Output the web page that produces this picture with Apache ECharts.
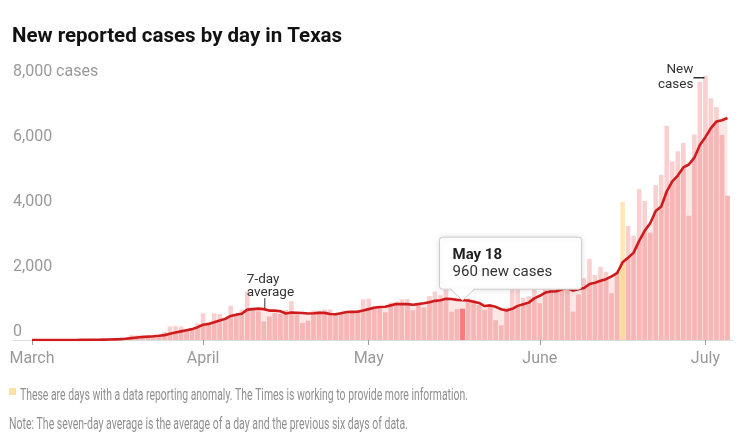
<!DOCTYPE html>
<html><head><meta charset="utf-8">
<script src="https://cdn.jsdelivr.net/npm/echarts@6/dist/echarts.min.js"></script>
<style>html,body{margin:0;padding:0;background:#fff}#c{width:739px;height:435px}</style>
</head><body><div id="c"></div>
<script>
// Day index 0 = March 1, 2020
const newCases = [0,0,0,0,1,2,3,4,5,10,
12,15,18,25,30,40,55,80,150,145,
150,110,115,120,260,420,430,410,300,370,
510,820,560,820,800,670,1055,750,940,1490,
930,880,570,720,830,800,930,1200,820,520,
590,910,900,940,940,780,790,850,870,920,
1250,1270,1050,1000,850,1150,1180,1250,1260,910,
1150,1000,1350,1490,1380,1550,870,950,960,1280,
1240,1080,930,1040,610,450,1000,1620,1700,1300,
1350,1650,1130,1650,1700,1750,1850,1650,870,1400,
1900,2490,2000,2250,2100,1440,2100,4250,3510,3210,
4650,4280,3300,4770,5080,6590,5490,5810,6060,3820,
6320,7950,8130,7440,7160,6310,4440];
const sevenDayAvg = [0,0,0,0,0,1,1,2,2,3,
4,6,8,11,15,20,27,38,58,75,
92,105,115,130,150,190,230,266,300,335,
395,470,495,545,600,650,740,780,810,935,
950,965,950,905,905,885,815,845,838,830,
815,822,835,835,800,790,825,860,865,870,
910,950,990,1015,1025,1065,1105,1105,1105,1085,
1105,1130,1160,1205,1225,1270,1260,1235,1225,1215,
1180,1140,1045,1065,1020,945,910,960,1050,1100,
1150,1280,1360,1460,1490,1500,1560,1600,1520,1560,
1600,1720,1760,1820,1870,1960,2060,2390,2530,2690,
3050,3360,3590,3970,4110,4570,4880,5060,5310,5400,
5610,6000,6240,6520,6720,6760,6830];
const monthTickDays = [0,31,61,92,122];
const monthLabels = ['March','April','May','June','July'];
const yTickValues = [0,2000,4000,6000,8000];
const yTickLabels = ['0','2,000','4,000','6,000','8,000 cases'];
const highlightDay = 78;
const highlightLabel = 'May 18';
const anomalyDays = [107];
const avgLabelDay = 42;
const newCasesLabelDay = 122;
const titleText = 'New reported cases by day in Texas';
const anomalyNote = 'These are days with a data reporting anomaly. The Times is working to provide more information.';
const avgNote = 'Note: The seven-day average is the average of a day and the previous six days of data.';

const FF = "Roboto, 'Liberation Sans', sans-serif";
const C = {
  light: '#f9cfcf', dark: '#f6b6b6', area: '#fce7e7',
  anomLight: '#fee6b8', anomDark: '#fdd89f', hi: '#f47c7c',
  line: '#d01b1d', gray: '#999'
};

const lightData = newCases.map((v, i) => ({
  value: [i, v],
  itemStyle: { color: i === highlightDay ? C.hi : (anomalyDays.includes(i) ? C.anomLight : C.light) }
}));
const darkData = newCases.map((v, i) => ({
  value: [i, Math.min(v, sevenDayAvg[i])],
  itemStyle: { color: i === highlightDay ? C.hi : (anomalyDays.includes(i) ? C.anomDark : C.dark) }
}));
const avgData = sevenDayAvg.map((v, i) => [i, v]);

const chart = echarts.init(document.getElementById('c'), null, { renderer: 'canvas' });
chart.setOption({
  animation: false,
  backgroundColor: '#fff',
  title: {
    text: titleText, left: 12, top: 26, padding: 0,
    textStyle: { fontFamily: FF, fontWeight: 'bold', fontSize: 20.5, color: '#121212' }
  },
  grid: { left: 13, right: 6, top: 80, bottom: 95 },
  xAxis: {
    type: 'value', min: -3.44, max: 127,
    splitLine: { show: false },
    axisLine: { show: true, lineStyle: { color: '#ddd', width: 1 } },
    axisTick: { show: true, customValues: monthTickDays, length: 5, lineStyle: { color: '#999' } },
    axisLabel: {
      customValues: monthTickDays,
      formatter: v => monthLabels[monthTickDays.indexOf(v)],
      color: C.gray, fontSize: 16, margin: 11, fontFamily: FF
    }
  },
  yAxis: {
    type: 'value', min: 0, max: 8000, interval: 2000,
    splitLine: { show: false }, axisLine: { show: false }, axisTick: { show: false },
    axisLabel: {
      inside: true, margin: 0, verticalAlign: 'bottom', padding: [0, 0, 0, 0],
      formatter: v => yTickLabels[yTickValues.indexOf(v)],
      color: C.gray, fontSize: 16, fontFamily: FF
    }
  },
  series: [
    { type: 'line', data: avgData, symbol: 'none', z: 1, lineStyle: { width: 0 },
      areaStyle: { color: C.area, opacity: 1 }, silent: true },
    { type: 'bar', data: lightData, barWidth: 4.6, barGap: '-100%', z: 2, clip: false, silent: true },
    { type: 'bar', data: darkData, barWidth: 4.6, barGap: '-100%', z: 3, clip: false, silent: true },
    { type: 'line', data: avgData, symbol: 'none', z: 5, lineStyle: { width: 2.6, color: C.line, join: 'round' }, silent: true }
  ]
});

function textWidth(t, font) {
  const ctx = document.createElement('canvas').getContext('2d');
  ctx.font = font; return ctx.measureText(t).width;
}

const g = [];
// tooltip box for highlighted day
const tip = chart.convertToPixel({ gridIndex: 0 }, [highlightDay, sevenDayAvg[highlightDay]]);
const bx = tip[0] - 23, by = tip[1] - 63, bw = 142, bh = 52;
g.push({ type: 'rect', shape: { x: bx, y: by, width: bw, height: bh, r: 3 }, z: 100,
  style: { fill: '#fff', stroke: '#ccc', lineWidth: 1, shadowBlur: 6, shadowColor: 'rgba(0,0,0,0.12)' } });
g.push({ type: 'polygon', z: 101, shape: { points: [[tip[0] - 12, by + bh - 1], [tip[0] + 12, by + bh - 1], [tip[0], tip[1]]] },
  style: { fill: '#fff' } });
g.push({ type: 'polyline', z: 102, shape: { points: [[tip[0] - 12, by + bh], [tip[0], tip[1]], [tip[0] + 12, by + bh]] },
  style: { stroke: '#ccc', lineWidth: 1, fill: null } });
g.push({ type: 'text', z: 103, x: tip[0] - 10, y: tip[1] - 45,
  style: { text: highlightLabel, fontFamily: FF, fontWeight: 'bold', fontSize: 15, fill: '#222', verticalAlign: 'middle', textVerticalAlign: 'middle' } });
g.push({ type: 'text', z: 103, x: tip[0] - 10, y: tip[1] - 28,
  style: { text: newCases[highlightDay].toLocaleString('en-US') + ' new cases', fontFamily: FF, fontSize: 15, fill: '#333', verticalAlign: 'middle', textVerticalAlign: 'middle' } });

// 7-day average label
const ap = chart.convertToPixel({ gridIndex: 0 }, [avgLabelDay, sevenDayAvg[avgLabelDay]]);
g.push({ type: 'line', z: 50, shape: { x1: ap[0] + 1, y1: ap[1] - 11, x2: ap[0] + 1, y2: ap[1] - 1 }, style: { stroke: '#333', lineWidth: 1 } });
g.push({ type: 'text', z: 50, x: ap[0] - 17, y: ap[1] - 30,
  style: { text: '7-day', fontFamily: FF, fontSize: 13.5, fill: '#333', verticalAlign: 'middle', textVerticalAlign: 'middle' } });
g.push({ type: 'text', z: 50, x: ap[0] - 17, y: ap[1] - 17,
  style: { text: 'average', fontFamily: FF, fontSize: 13.5, fill: '#333', verticalAlign: 'middle', textVerticalAlign: 'middle' } });

// New cases label
const np = chart.convertToPixel({ gridIndex: 0 }, [newCasesLabelDay, newCases[newCasesLabelDay]]);
g.push({ type: 'line', z: 50, shape: { x1: np[0] - 12, y1: np[1] + 2, x2: np[0] - 1, y2: np[1] + 2 }, style: { stroke: '#333', lineWidth: 1.5 } });
g.push({ type: 'text', z: 50, x: np[0] - 12, y: np[1] - 6,
  style: { text: 'New', fontFamily: FF, fontSize: 13.5, fill: '#333', align: 'right', textAlign: 'right', verticalAlign: 'middle', textVerticalAlign: 'middle' } });
g.push({ type: 'text', z: 50, x: np[0] - 12, y: np[1] + 9,
  style: { text: 'cases', fontFamily: FF, fontSize: 13.5, fill: '#333', align: 'right', textAlign: 'right', verticalAlign: 'middle', textVerticalAlign: 'middle' } });

// footnotes
const noteFont = '16px ' + FF;
const s1 = 448 / textWidth(anomalyNote, noteFont);
const s2 = 399 / textWidth(avgNote, noteFont);
g.push({ type: 'rect', shape: { x: 9, y: 388, width: 7, height: 7 }, style: { fill: '#fde0a4' } });
g.push({ type: 'text', x: 20, y: 396, scaleX: s1,
  style: { text: anomalyNote, fontFamily: FF, fontSize: 16, fill: '#8f8f8f', verticalAlign: 'middle', textVerticalAlign: 'middle' } });
g.push({ type: 'text', x: 9, y: 425, scaleX: s2,
  style: { text: avgNote, fontFamily: FF, fontSize: 16, fill: '#8f8f8f', verticalAlign: 'middle', textVerticalAlign: 'middle' } });

chart.setOption({ graphic: g });
</script>
</body></html>
